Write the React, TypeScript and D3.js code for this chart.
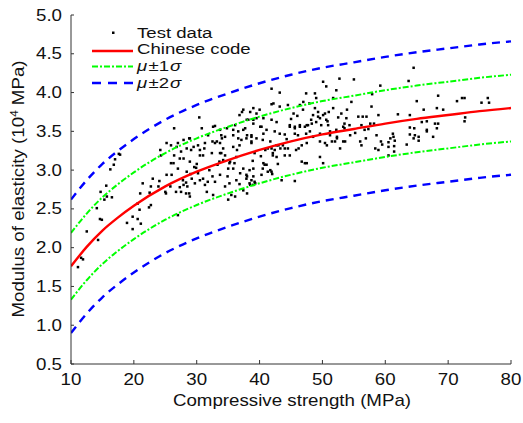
import React from "react";
import * as d3 from "d3";

// ---- Data ----
const strengthGrid = [10, 12.5, 15, 17.5, 20, 25, 30, 35, 40, 45, 50, 55, 60, 65, 70, 75, 80];
const codeModulus = [1.76, 2.01, 2.22, 2.39, 2.54, 2.79, 2.98, 3.13, 3.26, 3.37, 3.46, 3.53, 3.6, 3.66, 3.71, 3.76, 3.8];
const plusOneSigma = [2.19, 2.44, 2.65, 2.82, 2.97, 3.22, 3.41, 3.56, 3.69, 3.8, 3.89, 3.96, 4.03, 4.09, 4.14, 4.19, 4.23];
const minusOneSigma = [1.33, 1.58, 1.79, 1.96, 2.11, 2.36, 2.55, 2.7, 2.83, 2.94, 3.03, 3.1, 3.17, 3.23, 3.28, 3.33, 3.37];
const plusTwoSigma = [2.62, 2.87, 3.08, 3.25, 3.4, 3.65, 3.84, 3.99, 4.12, 4.23, 4.32, 4.39, 4.46, 4.52, 4.57, 4.62, 4.66];
const minusTwoSigma = [0.9, 1.15, 1.36, 1.53, 1.68, 1.93, 2.12, 2.27, 2.4, 2.51, 2.6, 2.67, 2.74, 2.8, 2.85, 2.9, 2.94];

const xTicks = [10, 20, 30, 40, 50, 60, 70, 80];
const yTicks = [0.5, 1.0, 1.5, 2.0, 2.5, 3.0, 3.5, 4.0, 4.5, 5.0];

// Test data: [compressive strength (MPa), modulus (10^4 MPa)]
const testData: [number, number][] = [
  [11.1, 1.75], [11.6, 1.87], [11.9, 1.85], [12.5, 2.21], [14.3, 2.1], [14.9, 2.36], [14.1, 2.51], [14.7, 2.72],
  [15.6, 2.8], [15.7, 2.66], [16.5, 2.65], [16.25, 3.01], [16.8, 3.07], [17.0, 3.14], [17.6, 3.21], [17.8, 3.2],
  [19.8, 2.4], [20.6, 2.37], [21.1, 2.31], [19.8, 2.24], [18.9, 2.32], [20.6, 2.57], [20.9, 2.49], [22.7, 2.55],
  [22.4, 2.52], [21.0, 2.7], [21.4, 2.83], [22.5, 2.71], [22.7, 2.79], [23.0, 2.89], [24.05, 2.86], [23.9, 2.79],
  [25.1, 2.7], [25.8, 2.79], [25.0, 2.72], [25.2, 2.94], [24.2, 3.26], [24.3, 3.19], [25.2, 3.35], [25.9, 3.32],
  [25.9, 3.09], [26.3, 3.09], [26.4, 3.19], [26.4, 3.54], [26.8, 3.3], [27.0, 3.35], [27.0, 3.02], [27.0, 2.42],
  [27.3, 3.15], [27.5, 3.24], [27.5, 2.72], [26.7, 2.72], [27.8, 2.87], [27.9, 3.39], [27.9, 3.15], [27.9, 2.81],
  [28.3, 2.84], [28.3, 2.7], [28.4, 3.28], [28.4, 2.98], [28.5, 2.79], [28.8, 3.41], [28.8, 2.7], [28.9, 3.41],
  [28.9, 3.11], [28.9, 2.66], [29.1, 3.26], [29.2, 2.89], [29.5, 3.3], [29.6, 3.04], [29.7, 2.83], [29.9, 3.03],
  [30.2, 2.96], [30.2, 3.32], [30.4, 3.68], [30.5, 3.26], [30.5, 3.19], [30.5, 2.87], [31.0, 2.89], [31.0, 3.19],
  [31.2, 3.28], [31.3, 2.81], [31.6, 2.72], [31.75, 2.85], [32.4, 3.22], [32.5, 2.92], [32.5, 3.37], [32.6, 3.56],
  [32.6, 2.68], [32.9, 3.57], [32.9, 3.35], [32.9, 2.85], [33.3, 3.07], [33.6, 3.11], [33.7, 3.52], [33.7, 3.35],
  [33.7, 3.22], [33.7, 2.94], [33.9, 3.45], [33.9, 3.22], [34.0, 3.41], [34.2, 3.13], [34.5, 3.43], [34.5, 3.19],
  [34.5, 2.79], [35.0, 3.02], [35.0, 2.62], [35.2, 3.09], [35.2, 2.83], [35.3, 3.11], [35.5, 2.68], [35.8, 3.52],
  [35.8, 3.45], [35.8, 3.3], [35.8, 3.02], [36.0, 3.09], [36.1, 2.66], [36.3, 3.17], [36.3, 2.87], [36.6, 3.5],
  [36.8, 3.71], [36.8, 3.32], [36.9, 2.96], [37.1, 3.39], [37.2, 3.75], [37.4, 3.78], [37.4, 3.52], [37.4, 3.02],
  [37.4, 2.74], [37.7, 3.54], [37.9, 3.41], [37.9, 2.94], [37.9, 2.89], [38.0, 3.45], [38.0, 2.92], [38.0, 2.7],
  [38.2, 3.65], [38.4, 3.0], [38.4, 2.83], [38.5, 3.75], [38.5, 2.81], [38.7, 3.45], [38.7, 3.43], [38.7, 3.37],
  [38.7, 3.35], [38.7, 2.87], [39.0, 3.8], [39.0, 3.65], [39.0, 3.02], [39.0, 2.92], [39.0, 2.81], [39.2, 3.22],
  [39.2, 2.85], [39.3, 2.83], [39.5, 3.73], [39.5, 3.41], [40.0, 3.78], [40.3, 3.56], [40.3, 2.94], [40.5, 3.39],
  [40.5, 3.02], [40.6, 3.67], [40.6, 3.47], [40.6, 3.09], [40.8, 3.07], [40.9, 3.26], [41.1, 3.07], [41.3, 3.28],
  [41.3, 2.98], [41.7, 3.37], [41.7, 3.0], [41.9, 4.05], [41.9, 3.85], [41.9, 3.65], [41.9, 3.28], [41.9, 2.98],
  [42.0, 2.95], [42.1, 3.22], [42.1, 3.19], [42.2, 3.86], [42.4, 3.5], [42.4, 3.26], [42.7, 3.62], [42.7, 3.32],
  [42.7, 3.17], [43.0, 3.32], [43.2, 4.0], [43.2, 3.82], [43.2, 3.47], [43.3, 3.28], [43.5, 2.87], [43.7, 3.32],
  [44.0, 3.46], [44.0, 3.28], [44.0, 3.19], [44.5, 3.84], [44.5, 3.28], [44.8, 3.58], [44.8, 3.56], [44.8, 3.19],
  [45.4, 3.73], [45.6, 3.56], [45.6, 3.54], [45.6, 3.47], [45.6, 2.86], [45.8, 3.26], [46.1, 3.45], [46.2, 3.28],
  [46.4, 3.84], [46.4, 3.58], [46.4, 3.56], [46.7, 3.32], [46.7, 3.11], [46.9, 3.78], [46.95, 3.88], [47.2, 3.56],
  [47.2, 3.09], [47.4, 3.99], [47.4, 3.47], [47.5, 3.58], [47.5, 3.09], [47.7, 3.58], [48.2, 3.65], [48.3, 3.6],
  [48.5, 3.71], [48.8, 3.99], [48.8, 3.8], [49.0, 3.93], [49.0, 3.62], [49.3, 3.75], [49.3, 3.69], [49.6, 3.37],
  [49.6, 3.17], [50.1, 4.14], [50.1, 3.71], [50.1, 3.09], [50.4, 3.73], [50.4, 3.35], [50.6, 4.08], [50.6, 3.65],
  [50.8, 3.63], [50.9, 3.58], [51.2, 3.45], [51.5, 3.37], [51.7, 3.93], [51.7, 3.8], [52.0, 3.37], [52.2, 4.03],
  [52.2, 3.52], [52.3, 3.41], [52.7, 4.18], [53.0, 3.73], [53.3, 3.37], [53.5, 3.6], [53.5, 3.54], [53.6, 3.37],
  [53.8, 3.67], [54.3, 3.58], [54.6, 3.88], [55.0, 4.17], [55.7, 3.69], [56.0, 3.37], [56.2, 3.58], [56.2, 3.32],
  [56.4, 3.69], [56.7, 3.52], [57.0, 3.69], [57.3, 3.53], [57.6, 3.6], [57.8, 3.82], [57.9, 3.98], [58.2, 3.6],
  [58.4, 3.28], [58.9, 3.71], [58.9, 3.26], [59.2, 4.09], [59.3, 3.37], [59.5, 3.33], [60.5, 3.36], [60.5, 3.3],
  [60.5, 3.19], [60.8, 3.41], [61.3, 3.43], [61.4, 3.31], [61.4, 3.24], [61.5, 3.38], [61.2, 3.47], [62.0, 3.72],
  [63.4, 3.33], [63.7, 4.15], [63.9, 3.71], [63.9, 3.55], [63.9, 3.46], [64.5, 4.32], [64.5, 3.41], [64.6, 3.54],
  [64.7, 3.45], [65.0, 3.89], [65.3, 3.43], [65.3, 3.38], [65.8, 3.62], [66.1, 3.78], [66.6, 3.63], [66.6, 3.52],
  [66.6, 3.5], [67.6, 3.43], [67.9, 3.6], [68.2, 3.8], [68.2, 3.54], [68.4, 3.96], [68.4, 3.6], [69.2, 3.78],
  [71.4, 3.89], [72.2, 3.93], [72.6, 3.93], [72.6, 3.63], [72.7, 3.68], [75.3, 3.87], [76.3, 3.93], [76.5, 3.87],
  [30.8, 3.54], [31.8, 3.45], [33.2, 3.37], [34.8, 3.54], [36.1, 3.58], [36.6, 3.41], [34.2, 3.28], [36.4, 3.26],
  [31.3, 3.35], [37.95, 3.65], [39.0, 3.6], [40.1, 3.56], [41.1, 3.52], [39.5, 3.67], [49.6, 3.47], [51.2, 3.5],
  [52.3, 3.43], [53.3, 3.56], [54.4, 3.45], [50.7, 3.32], [48.5, 3.43], [47.5, 3.35], [52.8, 3.28], [49.6, 3.67],
  [14.6, 2.37], [15.3, 2.62], [26.0, 2.94], [27.3, 2.78], [29.0, 2.95], [30.0, 3.08], [32.0, 3.0], [34.9, 2.92],
  [36.8, 2.82], [38.9, 3.12], [40.2, 3.18], [42.9, 3.08], [44.3, 3.4], [45.0, 3.66], [46.0, 3.7], [47.9, 3.86],
  [48.0, 3.5], [49.8, 3.58], [51.0, 3.75], [52.5, 3.68], [53.9, 3.78], [55.2, 3.48], [56.9, 3.41], [58.6, 3.45],
];

// ---- Layout ----
const W = 523;
const H = 423;
const x = d3.scaleLinear().domain([10, 80]).range([71, 511]);
const y = d3.scaleLinear().domain([0.5, 5.0]).range([364, 15]);

const FONT = "'Liberation Sans', Arial, Helvetica, sans-serif";

function T({ tx, ty, anchor = "start", rot = 0, size = 16, sx = 1.17, italic = false, children }: any) {
  return (
    <g transform={`translate(${tx},${ty}) rotate(${rot}) scale(${sx},1)`}>
      <text
        textAnchor={anchor}
        fontSize={size}
        fontFamily={FONT}
        fontStyle={italic ? "italic" : "normal"}
        fill="#111"
      >
        {children}
      </text>
    </g>
  );
}

const lineGen = (vals: number[]) =>
  d3
    .line<number>()
    .x((_, i) => x(strengthGrid[i]))
    .y((v) => y(v))
    .curve(d3.curveMonotoneX)(vals) as string;

export default function App() {
  const axisColor = "#333";
  const LS = 15.5;
  const LX = 1.2;
  return (
    <svg
      width={W}
      height={H}
      viewBox={`0 0 ${W} ${H}`}
      style={{ position: "fixed", left: 0, top: 0, background: "#fff" }}
    >
      <rect x={0} y={0} width={W} height={H} fill="#fff" />
      <defs>
        <clipPath id="plot">
          <rect x={71} y={10} width={445} height={354} />
        </clipPath>
      </defs>

      {/* scatter */}
      <g fill="#000">
        {testData.map(([f, e], i) => (
          <rect key={i} x={x(f) - 1.2} y={y(e) - 1.2} width={2.5} height={2.5} />
        ))}
      </g>

      {/* curves */}
      <g clipPath="url(#plot)" fill="none">
        <path d={lineGen(plusTwoSigma)} stroke="#0000ff" strokeWidth={2.4} strokeDasharray="8,6" />
        <path d={lineGen(minusTwoSigma)} stroke="#0000ff" strokeWidth={2.4} strokeDasharray="8,6" />
        <path d={lineGen(plusOneSigma)} stroke="#00ff00" strokeWidth={2} strokeDasharray="6,2,2,2" />
        <path d={lineGen(minusOneSigma)} stroke="#00ff00" strokeWidth={2} strokeDasharray="6,2,2,2" />
        <path d={lineGen(codeModulus)} stroke="#ff0000" strokeWidth={2.4} />
      </g>

      {/* axes */}
      <line x1={71} y1={y(5.0)} x2={71} y2={364} stroke={axisColor} strokeWidth={1} />
      <line x1={71} y1={364} x2={511} y2={364} stroke={axisColor} strokeWidth={1} />
      {yTicks.map((t) => (
        <g key={"y" + t}>
          <line x1={71} x2={74} y1={y(t)} y2={y(t)} stroke={axisColor} />
          <T tx={62} ty={y(t) + 5.6} anchor="end">
            {t.toFixed(1)}
          </T>
        </g>
      ))}
      {xTicks.map((t) => (
        <g key={"x" + t}>
          <line x1={x(t)} x2={x(t)} y1={364} y2={360} stroke={axisColor} />
          <T tx={x(t)} ty={385} anchor="middle">
            {t}
          </T>
        </g>
      ))}

      {/* axis titles */}
      <T tx={292} ty={406} anchor="middle">
        Compressive strength (MPa)
      </T>
      <T tx={24} ty={189} anchor="middle" rot={-90}>
        Modulus of elasticity (10
        <tspan fontSize={10} dy={-6}>4</tspan>
        <tspan dy={6}> MPa)</tspan>
      </T>

      {/* legend */}
      <rect x={112} y={31.5} width={2.5} height={2.5} fill="#000" />
      <T tx={137} ty={37.7} size={LS} sx={LX}>Test data</T>
      <line x1={92} x2={133} y1={51} y2={51} stroke="#ff0000" strokeWidth={2.4} />
      <T tx={137} ty={54} size={LS} sx={LX}>Chinese code</T>
      <line x1={92} x2={133} y1={66.5} y2={66.5} stroke="#00ff00" strokeWidth={2} strokeDasharray="6,2,2,2" />
      <T tx={137} ty={71} size={LS} sx={LX} italic>μ</T>
      <T tx={148.5} ty={71} size={LS} sx={LX}>±1</T>
      <T tx={170} ty={71} size={LS} sx={LX} italic>σ</T>
      <line x1={92} x2={133} y1={83} y2={83} stroke="#0000ff" strokeWidth={2.4} strokeDasharray="9,7" />
      <T tx={137} ty={88} size={LS} sx={LX} italic>μ</T>
      <T tx={148.5} ty={88} size={LS} sx={LX}>±2</T>
      <T tx={170} ty={88} size={LS} sx={LX} italic>σ</T>
    </svg>
  );
}
